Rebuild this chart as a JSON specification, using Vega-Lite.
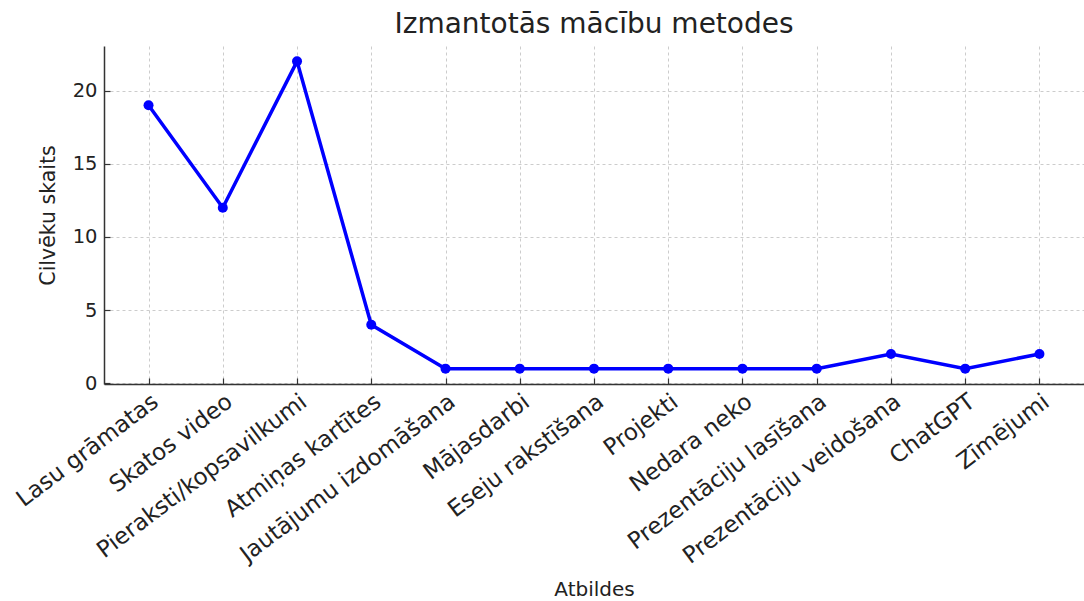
{
  "$schema": "https://vega.github.io/schema/vega-lite/v6.json",
  "autosize": "none",
  "padding": {"left": 104, "top": 46, "right": 0, "bottom": 217},
  "width": 980,
  "height": 338,
  "background": "white",
  "title": {"text": "Izmantotās mācību metodes", "font": "DejaVu Sans", "fontSize": 28, "fontWeight": "normal", "color": "#222222", "offset": 7},
  "config": {
    "view": {"stroke": null},
    "font": "DejaVu Sans",
    "axis": {
      "labelFont": "DejaVu Sans", "titleFont": "DejaVu Sans",
      "labelColor": "#222222", "titleColor": "#222222",
      "domainColor": "#333333", "domainWidth": 1.5,
      "tickColor": "#333333", "tickWidth": 1.2, "tickSize": -6,
      "gridColor": "#cccccc", "gridDash": [3, 3], "gridWidth": 1,
      "titleFontWeight": "normal"
    }
  },
  "data": {"values": [
    {"atbilde": "Lasu grāmatas", "skaits": 19},
    {"atbilde": "Skatos video", "skaits": 12},
    {"atbilde": "Pieraksti/kopsavilkumi", "skaits": 22},
    {"atbilde": "Atmiņas kartītes", "skaits": 4},
    {"atbilde": "Jautājumu izdomāšana", "skaits": 1},
    {"atbilde": "Mājasdarbi", "skaits": 1},
    {"atbilde": "Eseju rakstīšana", "skaits": 1},
    {"atbilde": "Projekti", "skaits": 1},
    {"atbilde": "Nedara neko", "skaits": 1},
    {"atbilde": "Prezentāciju lasīšana", "skaits": 1},
    {"atbilde": "Prezentāciju veidošana", "skaits": 2},
    {"atbilde": "ChatGPT", "skaits": 1},
    {"atbilde": "Zīmējumi", "skaits": 2}
  ]},
  "mark": {"type": "line", "color": "#0000ff", "strokeWidth": 3.5, "point": {"filled": true, "size": 100, "color": "#0000ff"}},
  "encoding": {
    "x": {
      "field": "atbilde", "type": "nominal", "sort": null,
      "scale": {"type": "point", "padding": 0.6},
      "axis": {"title": "Atbildes", "titleFontSize": 20, "titleBaseline": "middle", "titleY": 205, "labelAngle": -37, "labelAlign": "right", "labelBaseline": "top", "labelFontSize": 23, "labelPadding": 12, "grid": true, "labelLimit": 400}
    },
    "y": {
      "field": "skaits", "type": "quantitative",
      "scale": {"domain": [-0.05, 23.05], "nice": false, "zero": false},
      "axis": {"title": "Cilvēku skaits", "titleFontSize": 20.5, "titlePadding": 14, "labelFontSize": 19.5, "values": [0, 5, 10, 15, 20], "grid": true, "labelPadding": 13}
    }
  }
}
